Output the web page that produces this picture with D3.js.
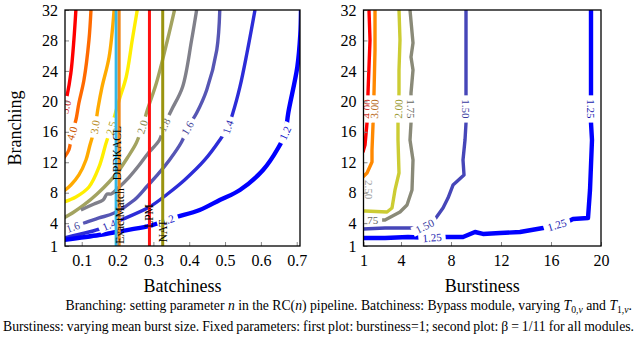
<!DOCTYPE html>
<html>
<head>
<meta charset="utf-8">
<script src="https://cdn.jsdelivr.net/npm/d3@7"></script>
<style>
  body { margin: 0; background: #fff; }
  svg text { font-family: "Liberation Serif", "Times New Roman", serif; }
</style>
</head>
<body>
<svg id="chart" width="636" height="339"></svg>
<script>
// ---- data ----
const branchTicks = [1, 4, 8, 12, 16, 20, 24, 28, 32];
const batchTicks = [0.1, 0.2, 0.3, 0.4, 0.5, 0.6, 0.7];
const burstTicks = [1, 4, 8, 12, 16, 20];

// left plot: contour levels of slowdown vs batchiness (x) and branching (y)
const batchLevels = ['5.0', '4.0', '3.0', '2.5', '2.0', '1.8', '1.6', '1.4', '1.2'];
const batchLines = [
  [[0.0837,32],[0.0781,28.06],[0.0697,23.72],[0.0584,20.57],[0.05,19.0]],
  [[0.1258,32],[0.1202,28.06],[0.1062,22.8],[0.0921,19.78],[0.0837,17.55],[0.0725,15.8],[0.064,13.61],[0.05,12.56]],
  [[0.1904,32],[0.1764,25.83],[0.1567,21.89],[0.1455,19.13],[0.1371,16.63],[0.123,14.27],[0.1118,12.3],[0.0921,10.33],[0.0697,9.01],[0.05,8.22]],
  [[0.255,32],[0.241,28.06],[0.2241,23.2],[0.2045,20.18],[0.182,16.5],[0.168,14.53],[0.1483,11.38],[0.1202,8.75],[0.0837,7.44],[0.05,6.78]],
  [[0.3589,32],[0.3393,28.06],[0.3084,22.41],[0.2831,18.86],[0.2691,16.63],[0.2522,14.53],[0.227,12.56],[0.2045,10.98],[0.1764,9.41],[0.1427,7.83],[0.1062,6.39],[0.0781,5.47],[0.05,4.68]],
  [[0.4207,32],[0.4067,28.06],[0.3814,21.89],[0.3506,18.86],[0.3309,16.89],[0.3168,14.92],[0.2859,13.22],[0.2606,11.64],[0.2326,10.06],[0.2017,8.62],[0.182,7.83],[0.1708,7.83],[0.1595,7.04],[0.1343,6.52],[0.0977,5.73]],
  [[0.4853,32],[0.4769,26.75],[0.4488,21.49],[0.4207,18.47],[0.3954,16.5],[0.3786,14.66],[0.3449,12.3],[0.3112,10.33],[0.2831,8.88],[0.2466,7.04],[0.1904,5.33],[0.1483,4.68],[0.1062,4.02],[0.0753,3.5],[0.05,3.1]],
  [[0.5836,32],[0.5612,26.35],[0.5415,21.89],[0.5218,18.47],[0.5078,16.63],[0.4853,14.92],[0.4432,12.3],[0.387,9.67],[0.3393,7.83],[0.2887,6.12],[0.196,4.15],[0.1567,3.36],[0.1202,2.84],[0.05,2.05]],
  [[0.05,1.79],[0.1483,2.44],[0.196,2.84],[0.2887,3.63],[0.3393,4.42],[0.3646,4.81],[0.4292,5.73],[0.4853,7.04],[0.5415,8.36],[0.6061,10.98],[0.6482,13.87],[0.668,15.84],[0.6764,18.47],[0.7017,24.51],[0.71,28.72],[0.712,32]]
];
const batchLabelAt = [
  [[0.0556,19.26]],
  [[0.0725,15.8]],
  [[0.1371,16.63]],
  [[0.182,16.5]],
  [[0.2691,16.63]],
  [[0.3309,16.89]],
  [[0.3954,16.5], [0.0753,3.5]],
  [[0.5078,16.63], [0.1764,3.76]],
  [[0.3393,4.42], [0.668,15.84]]
];

// vertical reference lines: measured batchiness of each module
const moduleNames = ['ExactMatch', 'DPDKACL', 'LPM', 'NAT'];
const moduleBatchiness = [0.196, 0.2045, 0.289, 0.326];
const moduleLabelBranching = [4.94, 13.2, 4.94, 2.97];

// right plot: contour levels of slowdown vs burstiness (x) and branching (y)
const burstLevels = ['4.00', '3.00', '2.00', '1.75', '1.50', '1.25'];
const burstLines = [
  [[1.44,32],[1.52,28.06],[1.36,21.1],[1.28,17.16],[1.12,14.27],[0.95,13.3]],
  [[1.92,32],[1.92,26.75],[1.84,21.1],[1.76,16.89],[1.68,13.61],[1.68,12.03],[1.28,10.59],[0.95,10.06]],
  [[3.84,32],[3.92,28.06],[3.84,24.12],[3.84,21.1],[3.76,17.16],[3.76,14.92],[3.84,10.59],[3.52,8.36],[3.28,5.99],[2.88,5.47],[1.12,5.6],[0.95,5.6]],
  [[4.72,32],[4.96,27.67],[4.8,25.83],[4.96,24.12],[4.8,21.1],[4.8,17.16],[4.72,14.92],[4.96,12.3],[4.88,8.36],[4.48,6.39],[3.92,5.47],[2.72,4.42],[0.95,4.42]],
  [[9.2,32],[9.2,26.75],[9.2,21.1],[9.2,17.16],[9.12,14.92],[8.96,12.3],[9.04,10.33],[8.16,9.01],[7.76,7.3],[7.36,5.99],[6.56,4.15],[5.6,3.36],[4.32,3.36],[2.72,3.36],[0.95,3.23]],
  [[19.2,32],[19.2,21.1],[19.2,17.16],[19.28,14.92],[19.12,8.36],[18.96,4.68],[17.76,4.55],[17.28,4.15],[16.48,3.76],[15.36,3.36],[13.52,2.84],[11.92,2.71],[10.56,2.58],[9.92,2.84],[8.96,2.18],[7.52,2.18],[6.48,2.05],[4.56,2.18],[2.72,2.05],[0.95,2.05]]
];
const burstLabelAt = [
  [[1.3,19.0]],
  [[1.88,19.0]],
  [[3.8,19.0]],
  [[4.8,19.0], [1.4,4.42]],
  [[9.2,19.0], [5.9,3.6]],
  [[19.2,19.0], [16.48,3.76], [6.48,2.1]]
];
const burstStrayLabel = { text: '2.50', at: [1.44, 8.4] };

// ---- styles ----
const batchColors = ['#ff0000', '#ff6a00', '#ffaa00', '#ffee00', '#a3a360', '#80808a', '#5656b4', '#2c2cd8', '#0000ff'];
const batchTextColors = ['#cc2222', '#cc5500', '#b88a20', '#b0a020', '#888850', '#6c6c74', '#45459a', '#2828b0', '#1010c8'];
const batchWidths = [3.4, 3.4, 3.4, 3.4, 3.4, 3.4, 3.4, 3.4, 4.4];
const moduleColors = ['#33b8e8', '#f0881c', '#ff1010', '#9a9410'];
const moduleLabelDx = [3.5, -2, 0, 0];
const burstColors = ['#ff0000', '#ff8800', '#cccc33', '#8a8a78', '#4646b8', '#0000ff'];
const burstTextColors = ['#cc3333', '#b86a20', '#999930', '#666660', '#3a3aa0', '#1a1ab0'];
const burstWidths = [3.4, 3.4, 3.4, 3.4, 3.4, 4.4];

const svg = d3.select('#chart');
const plotTop = 10, plotBottom = 246;
const yScale = d3.scaleLinear().domain([1, 32]).range([plotBottom, plotTop]);
const xBatch = d3.scaleLinear().domain([0.0533, 0.7092]).range([65, 300]);
const xBurst = d3.scaleLinear().domain([1, 20]).range([363.5, 601]);

const labelAngle = function (pts, p, xs) {
  const px = xs(p[0]), py = yScale(p[1]);
  let best = Infinity, ang = 0;
  for (let i = 0; i < pts.length - 1; i++) {
    const ax = xs(pts[i][0]), ay = yScale(pts[i][1]);
    const bx = xs(pts[i + 1][0]), by = yScale(pts[i + 1][1]);
    const dx = bx - ax, dy = by - ay;
    const t = Math.max(0, Math.min(1, ((px - ax) * dx + (py - ay) * dy) / (dx * dx + dy * dy)));
    const d = Math.hypot(ax + t * dx - px, ay + t * dy - py);
    if (d < best) { best = d; ang = Math.atan2(dy, dx) * 180 / Math.PI; }
  }
  if (ang > 90.5) ang -= 180;
  if (ang <= -90) ang += 180;
  return ang;
};

const drawPanel = function (p) {
  const xs = p.xScale;
  const [x0, x1] = xs.range();
  const clipId = 'clip-' + p.name;
  svg.append('clipPath').attr('id', clipId)
    .append('rect').attr('x', x0).attr('y', plotTop).attr('width', x1 - x0).attr('height', plotBottom - plotTop);

  const g = svg.append('g').attr('clip-path', `url(#${clipId})`);

  const line = d3.line()
    .x(d => xs(d[0]))
    .y(d => yScale(d[1]))
    .curve(p.curve);

  g.selectAll('.contour')
    .data(p.lines)
    .enter().append('path')
    .classed('contour', true)
    .attr('d', line)
    .style('fill', 'none')
    .style('stroke', (d, i) => p.colors[i])
    .style('stroke-width', (d, i) => p.widths[i])
    .style('stroke-linejoin', 'round')
    .style('stroke-linecap', 'butt');

  // contour labels sit in a gap cut out of the line
  p.labelAt.forEach((spots, i) => {
    spots.forEach(s => {
      const a = labelAngle(p.lines[i], s, xs);
      const lg = g.append('g')
        .attr('transform', `translate(${xs(s[0])},${yScale(s[1])}) rotate(${a})`);
      const bg = lg.append('rect').style('fill', '#fff');
      const t = lg.append('text')
        .attr('text-anchor', 'middle')
        .attr('dy', '0.35em')
        .style('font-size', '11px')
        .style('fill', p.textColors[i])
        .text(p.levels[i]);
      const w = t.node().getComputedTextLength();
      bg.attr('x', -w / 2 - 4).attr('y', -5).attr('width', w + 8).attr('height', 10);
    });
  });

  if (p.extra) p.extra(g);

  // inward ticks
  const xAxis = svg.append('g')
    .attr('transform', `translate(0,${plotBottom})`)
    .call(d3.axisBottom(xs).tickValues(p.ticks).tickFormat(p.fmt).tickSize(-4).tickPadding(9));
  const yAxis = svg.append('g')
    .attr('transform', `translate(${x0},0)`)
    .call(d3.axisLeft(yScale).tickValues(branchTicks).tickFormat(d3.format('d')).tickSize(-4).tickPadding(7));
  [xAxis, yAxis].forEach(ax => {
    ax.select('.domain').remove();
    ax.selectAll('.tick line').style('stroke', '#888').style('stroke-width', 1);
    ax.selectAll('.tick text')
      .style('font-family', '"Liberation Serif", serif')
      .style('font-size', '16px')
      .style('fill', '#000');
  });

  svg.append('rect')
    .attr('x', x0).attr('y', plotTop)
    .attr('width', x1 - x0).attr('height', plotBottom - plotTop)
    .style('fill', 'none')
    .style('stroke', '#000')
    .style('stroke-width', 1.3);

  svg.append('text')
    .attr('x', (x0 + x1) / 2).attr('y', 292)
    .attr('text-anchor', 'middle')
    .style('font-size', '18px')
    .text(p.title);
};

drawPanel({
  name: 'batch', xScale: xBatch, lines: batchLines, levels: batchLevels, labelAt: batchLabelAt,
  colors: batchColors, textColors: batchTextColors, widths: batchWidths,
  curve: d3.curveCatmullRom.alpha(0.5), ticks: batchTicks, fmt: d3.format('.1f'), title: 'Batchiness',
  extra: function (g) {
    g.selectAll('.module')
      .data(moduleBatchiness)
      .enter().append('line')
      .classed('module', true)
      .attr('x1', d => xBatch(d)).attr('x2', d => xBatch(d))
      .attr('y1', yScale(1)).attr('y2', yScale(32))
      .style('stroke', (d, i) => moduleColors[i])
      .style('stroke-width', 3);
    g.selectAll('.module-label')
      .data(moduleNames)
      .enter().append('text')
      .classed('module-label', true)
      .attr('transform', (d, i) =>
        `translate(${xBatch(moduleBatchiness[i]) + moduleLabelDx[i]},${yScale(moduleLabelBranching[i])}) rotate(-90)`)
      .attr('text-anchor', 'middle')
      .attr('dy', '0.35em')
      .style('font-size', '11.5px')
      .style('fill', '#000')
      .text(d => d);
  }
});

drawPanel({
  name: 'burst', xScale: xBurst, lines: burstLines, levels: burstLevels, labelAt: burstLabelAt,
  colors: burstColors, textColors: burstTextColors, widths: burstWidths,
  curve: d3.curveLinear, ticks: burstTicks, fmt: d3.format('d'), title: 'Burstiness',
  extra: function (g) {
    g.append('text')
      .attr('transform', `translate(${xBurst(burstStrayLabel.at[0])},${yScale(burstStrayLabel.at[1])}) rotate(90)`)
      .attr('text-anchor', 'middle')
      .attr('dy', '0.35em')
      .style('font-size', '11px')
      .style('fill', '#999')
      .text(burstStrayLabel.text);
  }
});

svg.append('text')
  .attr('transform', 'translate(21,128) rotate(-90)')
  .attr('text-anchor', 'middle')
  .style('font-size', '18px')
  .text('Branching');

// caption (justified lines, the first one cut at the left)
const capSize = '13.7px', subSize = '9.7px';
const cap1 = svg.append('text').attr('x', 632).attr('y', 310).attr('text-anchor', 'end').style('font-size', capSize);
cap1.append('tspan').text('Branching: setting parameter ');
cap1.append('tspan').style('font-style', 'italic').text('n');
cap1.append('tspan').text(' in the RC(');
cap1.append('tspan').style('font-style', 'italic').text('n');
cap1.append('tspan').text(') pipeline. Batchiness: Bypass module, varying ');
cap1.append('tspan').style('font-style', 'italic').text('T');
cap1.append('tspan').attr('dy', 3).style('font-size', subSize).text('0,');
cap1.append('tspan').style('font-size', subSize).style('font-style', 'italic').text('v');
cap1.append('tspan').attr('dy', -3).text(' and ');
cap1.append('tspan').style('font-style', 'italic').text('T');
cap1.append('tspan').attr('dy', 3).style('font-size', subSize).text('1,');
cap1.append('tspan').style('font-size', subSize).style('font-style', 'italic').text('v');
cap1.append('tspan').attr('dy', -3).text('.');

const cap2Text = 'Burstiness: varying mean burst size. Fixed parameters: first plot: burstiness=1; second plot: \u03b2 = 1/11 for all modules.';
const cap2 = svg.append('text').attr('x', 3).attr('y', 331).style('font-size', capSize).text(cap2Text);
const natural = cap2.node().getComputedTextLength();
const spaces = cap2Text.split(' ').length - 1;
cap2.style('word-spacing', ((631 - natural) / spaces) + 'px');
</script>
</body>
</html>
